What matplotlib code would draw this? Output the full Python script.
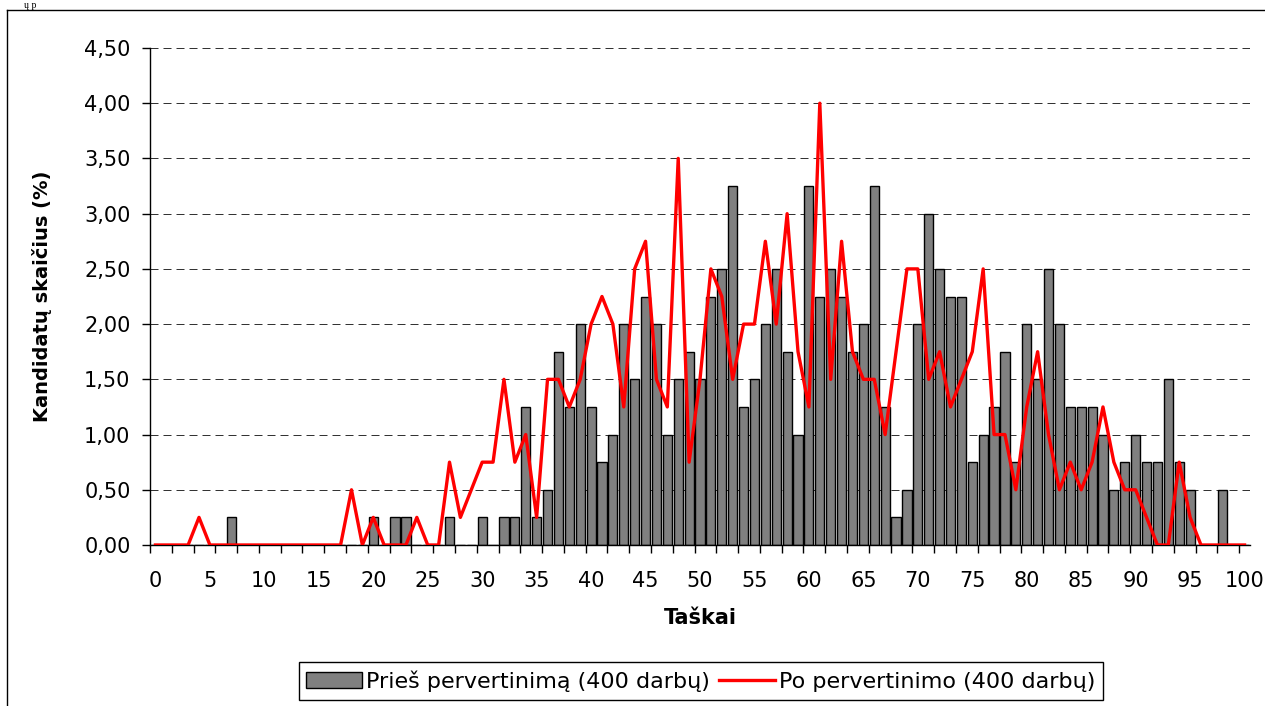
import matplotlib
matplotlib.use("Agg")
import matplotlib.pyplot as plt
from matplotlib.lines import Line2D

# score axis 0..100, values in % of 400 works
taskai = list(range(101))

pries = [
    0, 0, 0, 0, 0, 0, 0, 0.25, 0, 0,                          # 0-9
    0, 0, 0, 0, 0, 0, 0, 0, 0, 0,                             # 10-19
    0.25, 0, 0.25, 0.25, 0, 0, 0, 0.25, 0, 0,                 # 20-29
    0.25, 0, 0.25, 0.25, 1.25, 0.25, 0.5, 1.75, 1.25, 2.0,    # 30-39
    1.25, 0.75, 1.0, 2.0, 1.5, 2.25, 2.0, 1.0, 1.5, 1.75,     # 40-49
    1.5, 2.25, 2.5, 3.25, 1.25, 1.5, 2.0, 2.5, 1.75, 1.0,     # 50-59
    3.25, 2.25, 2.5, 2.25, 1.75, 2.0, 3.25, 1.25, 0.25, 0.5,  # 60-69
    2.0, 3.0, 2.5, 2.25, 2.25, 0.75, 1.0, 1.25, 1.75, 0.75,   # 70-79
    2.0, 1.5, 2.5, 2.0, 1.25, 1.25, 1.25, 1.0, 0.5, 0.75,     # 80-89
    1.0, 0.75, 0.75, 1.5, 0.75, 0.5, 0, 0, 0.5, 0,            # 90-99
    0,                                                        # 100
]

po = [
    0, 0, 0, 0, 0.25, 0, 0, 0, 0, 0,
    0, 0, 0, 0, 0, 0, 0, 0, 0.5, 0,
    0.25, 0, 0, 0, 0.25, 0, 0, 0.75, 0.25, 0.5,
    0.75, 0.75, 1.5, 0.75, 1.0, 0.25, 1.5, 1.5, 1.25, 1.5,
    2.0, 2.25, 2.0, 1.25, 2.5, 2.75, 1.5, 1.25, 3.5, 0.75,
    1.5, 2.5, 2.25, 1.5, 2.0, 2.0, 2.75, 2.0, 3.0, 1.75,
    1.25, 4.0, 1.5, 2.75, 1.75, 1.5, 1.5, 1.0, 1.75, 2.5,
    2.5, 1.5, 1.75, 1.25, 1.5, 1.75, 2.5, 1.0, 1.0, 0.5,
    1.25, 1.75, 1.0, 0.5, 0.75, 0.5, 0.75, 1.25, 0.75, 0.5,
    0.5, 0.25, 0, 0, 0.75, 0.25, 0, 0, 0, 0,
    0,
]

x_labels = list(range(0, 101, 5))
y_ticks = [0, 0.5, 1.0, 1.5, 2.0, 2.5, 3.0, 3.5, 4.0, 4.5]
y_labels = [f"{v:.2f}".replace(".", ",") for v in y_ticks]

W, H = 1265, 706
fig = plt.figure(figsize=(W / 100, H / 100), dpi=100)
ax = fig.add_axes([150 / W, 161 / H, 1100 / W, 497 / H])

for y in y_ticks[1:]:
    ax.axhline(y, color="#333333", lw=0.72, dashes=(8, 5), zorder=0)

bars = ax.bar(taskai, pries, width=0.84, color="#808080", edgecolor="black",
              linewidth=1.0, zorder=2, label="Prieš pervertinimą (400 darbų)")
line, = ax.plot(taskai, po, color="#ff0000", lw=2.4, solid_joinstyle="round",
                zorder=3, label="Po pervertinimo (400 darbų)")

ax.set_xlim(-0.5, 100.5)
ax.set_ylim(0, 4.5)
for s in ("top", "right"):
    ax.spines[s].set_visible(False)
for s in ("left", "bottom"):
    ax.spines[s].set_linewidth(1.0)

ax.set_yticks(y_ticks)
ax.set_yticklabels(y_labels, fontsize=15)
ax.tick_params(axis="y", direction="out", length=6, width=1.0, pad=8)

ax.set_xticks(x_labels)
ax.set_xticklabels([str(v) for v in x_labels], fontsize=15)
ax.tick_params(axis="x", which="major", length=0, pad=19)
ax.set_xticks([i + 0.5 for i in range(-1, 100, 2)], minor=True)
ax.tick_params(axis="x", which="minor", direction="out", length=6, width=1.0)

ax.set_ylabel("Kandidatų skaičius (%)", fontsize=14, fontweight="bold")
ax.yaxis.set_label_coords((52 - 150) / 1100, 0.5)
ax.set_xlabel("Taškai", fontsize=15, fontweight="bold")
ax.xaxis.set_label_coords(0.5, (545 - 608) / 497)

leg = fig.legend(handles=[bars, line], loc="center",
                 bbox_to_anchor=(701 / W, (H - 681) / H), ncol=2,
                 fontsize=16, frameon=True, fancybox=False, framealpha=1,
                 edgecolor="black", handlelength=2.5, handletextpad=0.2,
                 columnspacing=0.4, borderpad=0.35)
leg.get_frame().set_linewidth(1.0)

# outer chart frame (only left and top edges are inside the crop)
fig.add_artist(Line2D([7 / W, 7 / W], [0, 1 - 10 / H], transform=fig.transFigure,
                      color="black", lw=1.0))
fig.add_artist(Line2D([7 / W, 1], [1 - 10 / H, 1 - 10 / H], transform=fig.transFigure,
                      color="black", lw=1.0))
# fragment of page text above the chart
fig.text(24 / W, 1 - 0.5 / H, "ų p", fontsize=7, family="Liberation Serif",
         va="top", ha="left")

fig.savefig("out.png", dpi=100)
